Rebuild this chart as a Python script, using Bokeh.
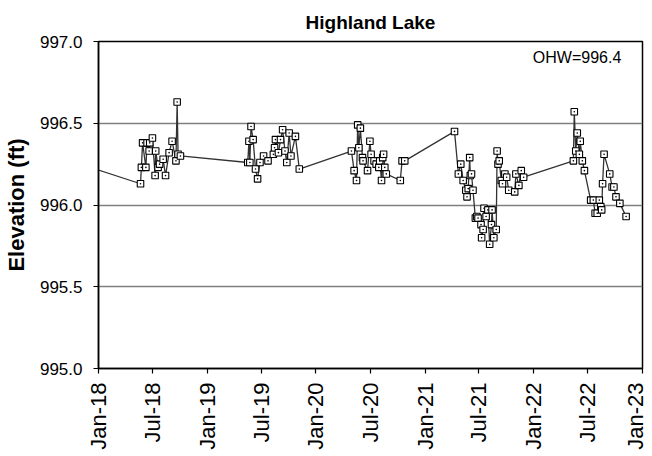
import pandas as pd
from bokeh.plotting import figure
from bokeh.models import (Range1d, FixedTicker, DatetimeTickFormatter, Label,
                          ColumnDataSource, PrintfTickFormatter)
from bokeh.embed import file_html
from bokeh.resources import INLINE

# ---- data ----
dates = [
    "2017-11-01",
    "2018-05-22", "2018-05-25", "2018-05-29", "2018-06-09", "2018-06-13", "2018-06-20",
    "2018-06-22", "2018-07-01", "2018-07-10", "2018-07-12", "2018-07-20", "2018-07-25",
    "2018-08-06", "2018-08-14", "2018-08-26", "2018-09-05", "2018-09-18", "2018-09-22",
    "2018-09-25", "2018-10-03",
    "2019-05-17", "2019-05-21", "2019-05-24", "2019-05-28", "2019-06-04", "2019-06-12",
    "2019-06-19", "2019-06-27", "2019-07-09", "2019-07-24", "2019-08-11", "2019-08-15",
    "2019-08-18", "2019-08-28", "2019-09-04", "2019-09-11", "2019-09-19", "2019-09-25",
    "2019-10-03", "2019-10-09", "2019-10-24", "2019-11-06",
    "2020-04-29", "2020-05-08", "2020-05-16", "2020-05-20", "2020-05-24", "2020-05-29",
    "2020-06-05", "2020-06-07", "2020-06-22", "2020-06-30", "2020-07-04", "2020-07-14",
    "2020-07-21", "2020-07-30", "2020-08-02", "2020-08-08", "2020-08-12", "2020-08-15",
    "2020-08-19", "2020-08-24", "2020-10-10", "2020-10-16", "2020-10-25",
    "2021-04-10", "2021-04-23", "2021-05-01", "2021-05-09", "2021-05-18", "2021-05-22",
    "2021-05-26", "2021-05-31", "2021-06-02", "2021-06-06", "2021-06-11", "2021-06-19",
    "2021-06-24", "2021-06-28", "2021-07-08", "2021-07-10", "2021-07-15", "2021-07-18",
    "2021-07-25", "2021-07-31", "2021-08-06", "2021-08-12", "2021-08-14", "2021-08-20",
    "2021-08-28", "2021-08-31", "2021-09-03", "2021-09-07", "2021-09-14", "2021-09-18",
    "2021-09-26", "2021-10-02", "2021-10-09", "2021-10-29", "2021-11-02", "2021-11-12",
    "2021-11-20", "2021-11-28",
    "2022-05-14", "2022-05-17", "2022-05-22", "2022-05-27", "2022-06-03", "2022-06-06",
    "2022-06-13", "2022-06-20", "2022-07-11", "2022-07-20", "2022-07-26", "2022-08-02",
    "2022-08-09", "2022-08-14", "2022-08-17", "2022-08-20", "2022-08-25", "2022-09-13",
    "2022-09-21", "2022-09-27", "2022-10-04", "2022-10-17", "2022-11-07",
]
elevation = [
    996.25,
    996.13, 996.23, 996.38, 996.23, 996.38, 996.33,
    996.38, 996.41, 996.18, 996.33, 996.23, 996.25,
    996.28, 996.18, 996.32, 996.39, 996.27, 996.63,
    996.31, 996.30,
    996.26, 996.39, 996.26, 996.48, 996.40, 996.22,
    996.16, 996.26, 996.30, 996.27, 996.31, 996.35,
    996.40, 996.32, 996.40, 996.46, 996.33, 996.26,
    996.44, 996.30, 996.42, 996.22,
    996.33, 996.21, 996.15, 996.49, 996.35, 996.47,
    996.29, 996.27, 996.21, 996.39, 996.31, 996.27,
    996.25, 996.23, 996.27, 996.15, 996.29, 996.31,
    996.23, 996.19, 996.15, 996.27, 996.27,
    996.45, 996.19, 996.25, 996.15, 996.09, 996.05,
    996.10, 996.29, 996.18, 996.19, 996.09, 995.92,
    995.93, 995.92, 995.88, 995.80, 995.85, 995.98,
    995.93, 995.97, 995.76, 995.88, 995.97, 995.80,
    995.85, 996.33, 996.25, 996.27, 996.15, 996.13,
    996.19, 996.17, 996.09, 996.08, 996.19, 996.12,
    996.21, 996.17,
    996.27, 996.57, 996.33, 996.44, 996.31, 996.39,
    996.27, 996.21, 996.03, 996.03, 995.95, 995.95,
    996.03, 995.99, 995.97, 996.13, 996.31, 996.19,
    996.11, 996.11, 996.05, 996.01, 995.93,
]
x_tick_dates = ["2018-01-01", "2018-07-01", "2019-01-01", "2019-07-01", "2020-01-01",
                "2020-07-01", "2021-01-01", "2021-07-01", "2022-01-01", "2022-07-01",
                "2023-01-01"]
y_ticks = [995.0, 995.5, 996.0, 996.5, 997.0]
grid_levels = [995.5, 996.0, 996.5]
ohw_text = "OHW=996.4"
title_text = "Highland Lake"
y_label = "Elevation (ft)"

# ---- figure ----
src = ColumnDataSource(dict(d=pd.to_datetime(dates), v=elevation))
x0 = pd.Timestamp(x_tick_dates[0])
x1 = pd.Timestamp(x_tick_dates[-1])

p = figure(width=647, height=452, x_axis_type="datetime",
           x_range=Range1d(x0, x1), y_range=Range1d(y_ticks[0], y_ticks[-1]),
           output_backend="svg", toolbar_location=None,
           min_border_left=96, min_border_right=5, min_border_top=37,
           min_border_bottom=83)

p.title.text = title_text
p.title.align = "center"
p.title.text_font = "Liberation Sans"
p.title.text_font_size = "19px"
p.title.text_font_style = "bold"
p.title.text_color = "black"
p.title.standoff = 18

p.outline_line_color = "black"
p.outline_line_width = 1.5
p.background_fill_color = "white"
p.border_fill_color = "white"

p.xgrid.visible = False
p.ygrid.ticker = FixedTicker(ticks=grid_levels)
p.ygrid.grid_line_color = "#7f7f7f"
p.ygrid.grid_line_width = 1.5

tick_ms = [pd.Timestamp(t).value / 1e6 for t in x_tick_dates]
xa = p.xaxis[0]
xa.ticker = FixedTicker(ticks=tick_ms)
fmt = "%b-%y"
xa.formatter = DatetimeTickFormatter(milliseconds=fmt, seconds=fmt, minsec=fmt,
                                     minutes=fmt, hourmin=fmt, hours=fmt, days=fmt,
                                     months=fmt, years=fmt)
xa.major_label_orientation = 3.14159265 / 2
xa.major_label_text_font = "Liberation Sans"
xa.major_label_text_font_size = "22px"
xa.major_label_text_color = "black"
xa.major_label_standoff = 9

ya = p.yaxis[0]
ya.ticker = FixedTicker(ticks=y_ticks)
ya.formatter = PrintfTickFormatter(format="%.1f")
ya.major_label_text_font = "Liberation Sans"
ya.major_label_text_font_size = "17px"
ya.major_label_text_color = "black"
ya.major_label_standoff = 11
ya.axis_label = y_label
ya.axis_label_text_font = "Liberation Sans"
ya.axis_label_text_font_size = "22px"
ya.axis_label_text_font_style = "bold"
ya.axis_label_text_color = "black"
ya.axis_label_standoff = 8

for ax in (xa, ya):
    ax.axis_line_color = "black"
    ax.axis_line_width = 1.5
    ax.major_tick_line_color = "black"
    ax.major_tick_line_width = 1.2
    ax.major_tick_out = 5
    ax.major_tick_in = 0
    ax.minor_tick_line_color = None

p.line("d", "v", source=src, line_color="#333333", line_width=1.3)
p.scatter("d", "v", source=src, marker="square_dot", size=6.5,
          line_color="black", line_width=1.1, fill_color="white")

p.add_layout(Label(x=pd.Timestamp("2022-10-22"), y=996.905,
                   text=ohw_text, text_align="right", text_baseline="middle",
                   text_font="Liberation Sans", text_font_size="16px",
                   text_color="black"))

open("out.html", "w").write(file_html(p, INLINE))
